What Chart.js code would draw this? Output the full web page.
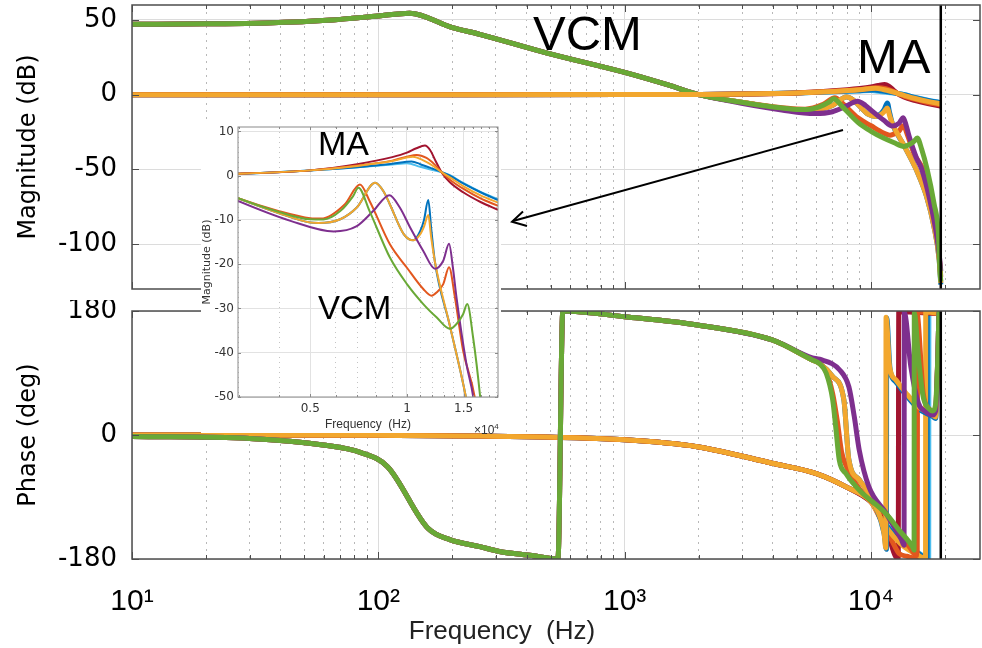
<!DOCTYPE html>
<html lang="es">
<head>
<meta charset="utf-8">
<title>Bode VCM / MA</title>
<script src="https://cdn.jsdelivr.net/npm/chart.js@4.4.1/dist/chart.umd.min.js"></script>
<style>
  html, body { margin: 0; padding: 0; background: #ffffff; }
  #baseBode { position: relative; width: 982px; height: 648px; overflow: hidden; background: #ffffff; }
  #baseBode canvas { position: absolute; display: block; }
  #baseInset { position: absolute; left: 201px; top: 121px; width: 300px; height: 312px; background: #ffffff; }
  .nota { position: absolute; line-height: 1; white-space: nowrap; color: #000000; font-family: "Liberation Sans", Arial, sans-serif; }
  #flecha { position: absolute; left: 0; top: 0; }
</style>
</head>
<body>
<div id="baseBode">
  <canvas id="graficaMagnitud" width="982" height="300" style="left:0;top:0"></canvas>
  <canvas id="graficaFase" width="982" height="348" style="left:0;top:300px"></canvas>
  <div id="baseInset"><canvas id="graficaInset" width="300" height="312" style="left:0;top:0"></canvas></div>
  <div class="nota" style="left:533px;top:9px;font-size:49px">VCM</div>
  <div class="nota" style="left:857px;top:32px;font-size:49px">MA</div>
  <div class="nota" style="left:318px;top:126px;font-size:34px">MA</div>
  <div class="nota" style="left:318px;top:291px;font-size:33px">VCM</div>
  <div class="nota" style="left:474px;top:424px;font-size:12px;color:#333">×10<span style="font-size:8px;position:relative;top:-5px">4</span></div>
  <div class="nota" style="left:502px;top:617px;font-size:26px;color:#222;transform:translateX(-50%)">Frequency&nbsp; (Hz)</div>
  <svg id="flecha" width="982" height="648">
    <line x1="843" y1="130" x2="513" y2="221" stroke="#000" stroke-width="2"/>
    <polyline points="523,211.5 512,221.7 527,226" fill="none" stroke="#000" stroke-width="2"/>
  </svg>
</div>
<script>
/* EJES */
const freqMin = 10;
const freqMax = 27700;
const nyquistHz = 19200;
const magMin = -130;
const magMax = 60;
const faseMin = -180;
const faseMax = 180;
const magTicks = [-100, -50, 0, 50];
const faseTicks = [-180, 0, 180];
const decadas = [10, 100, 1000, 10000];
const etiquetasDecada = ['10¹', '10²', '10³', '10⁴'];

const insetFreqMin = 2980;
const insetFreqMax = 19200;
const insetMagMin = -50;
const insetMagMax = 11;
const insetMagTicks = [-50, -40, -30, -20, -10, 0, 10];
const insetFreqTicks = [3000, 4000, 5000, 6000, 7000, 8000, 9000, 10000, 11000, 12000, 13000, 14000, 15000, 16000, 17000, 18000, 19000];
const insetFreqMarcadas = [5000, 10000, 15000];
const insetEtiquetas = ['0.5', '1', '1.5'];

/* MAGNITUD VCM (dB) */
const vcmMagBajaF = [10, 20, 35, 65, 100, 134, 200, 258, 480, 1000, 1500, 2000];
const vcmMagBaja = [47.1, 47.4, 48, 50, 52.7, 54.5, 44.8, 40.4, 28, 14.9, 6.5, 0];

const vcmAzulMagF = [2980, 4000, 5000, 5300, 6200, 6980, 7960, 8450, 8850, 9770, 10460, 11000, 11300, 11650, 11900, 12220, 13600, 15310, 16800, 18000, 18900, 19200];
const vcmAzulMag = [-5.1, -8.5, -10.6, -10.7, -9.85, -7.2, -1.6, -3.5, -6.5, -13.2, -14.6, -12.5, -10, -5.5, -12, -19.5, -33.9, -50.6, -68, -88, -110, -127];
const vcmAmarilloMagF = [2980, 4000, 5000, 5300, 6200, 6980, 7960, 8450, 8850, 9770, 10460, 11000, 11300, 11650, 11900, 12220, 13600, 15310, 16800, 18000, 18900, 19200];
const vcmAmarilloMag = [-5.1, -8.5, -10.6, -10.7, -9.85, -7.2, -1.6, -3.5, -6.5, -13.2, -14.6, -13.2, -11.5, -8.9, -14, -19.5, -33.9, -50.6, -68, -88, -110, -126];
const vcmNaranjaMagF = [2980, 4000, 5000, 5400, 6400, 7140, 7650, 8850, 10000, 11240, 11930, 12360, 12970, 13520, 14100, 14950, 16300, 17500, 18500, 19000, 19200];
const vcmNaranjaMag = [-5.1, -8.0, -9.6, -9.7, -6.5, -2.0, -5.7, -15.5, -20.8, -25.6, -27.1, -26.4, -24.5, -20.7, -27.5, -39.5, -50.6, -70, -95, -112, -122];
const vcmMoradoMagF = [2980, 4340, 5920, 6980, 7850, 8820, 9500, 10230, 11240, 12220, 12970, 13520, 13900, 14260, 15310, 16080, 17300, 18500, 19000, 19200];
const vcmMoradoMag = [-5.7, -10.2, -12.6, -11.4, -8, -4.4, -7.2, -11.7, -17, -21, -19.2, -15.4, -20.8, -27.5, -42.5, -50, -70, -95, -110, -118];
const vcmVerdeMagF = [2980, 4000, 5000, 5500, 6200, 6800, 7060, 7650, 8850, 10000, 11240, 12360, 13600, 14260, 14950, 15400, 16060, 16900, 18030, 18780, 19020, 19200];
const vcmVerdeMag = [-5.1, -8.2, -9.85, -9.9, -8, -4.6, -2.7, -8, -18.5, -24.5, -29, -32, -34.6, -33.5, -31.3, -29, -36.5, -50, -72.9, -92.9, -115, -125];

/* MAGNITUD MA (dB) */
const maMagBajaF = [10, 1000, 2000, 3000, 5000];
const maMagBaja = [0, 0.05, 0.2, 0.45, 1.2];

const maAzulMagF = [7000, 9000, 10340, 11000, 12000, 12820, 13600, 15000, 17000, 19200];
const maAzulMag = [1.9, 2.7, 3.2, 2.6, 1.6, 0.8, 0, -1.8, -3.8, -5.5];
const maCelesteMagF = [7000, 9000, 10000, 11000, 12000, 12820, 13600, 15000, 17000, 19200];
const maCelesteMag = [1.9, 2.5, 2.8, 2.0, 1.3, 0.8, 0.1, -1.7, -3.7, -5.3];
const maAmarilloMagF = [7000, 9000, 10440, 11200, 12000, 12820, 13600, 15000, 17000, 19200];
const maAmarilloMag = [2.2, 3.3, 4.3, 3.5, 2.3, 0.8, -0.4, -2.4, -4.5, -6.1];
const maNaranjaMagF = [7000, 9000, 10000, 10720, 11500, 12200, 12820, 13600, 15000, 17000, 19200];
const maNaranjaMag = [2.3, 3.4, 4.3, 4.7, 4.0, 2.5, 0.75, -0.9, -3.0, -5.2, -6.8];
const maRojoMagF = [7000, 9000, 10000, 10700, 11370, 11800, 12300, 12820, 13600, 15000, 17000, 19200];
const maRojoMag = [2.6, 4.2, 5.2, 6.2, 6.8, 5.8, 3.2, 0.75, -1.5, -3.8, -6.0, -7.7];

/* FASE VCM (deg) */
const vcmFaseBajaF = [10, 30, 59.7, 85, 109, 159, 195, 258, 310, 420, 536, 561, 1000, 1970, 3970];
const vcmFaseBaja = [-2, -5, -14.5, -25.6, -46, -135.5, -152, -162, -169, -175, -180, 180, 171.7, 159.7, 138];

const vcmVerdeFaseF = [5780, 6170, 6580, 6990, 7200, 7430, 7910, 8960, 11490, 13000, 14720, 14960, 14990, 15600, 16300, 17200, 17800, 18300, 18700, 18900, 19200];
const vcmVerdeFase = [109, 104, 89.6, 51, 10, -36, -56, -80, -114, -138, -162, -167, 177, 110, 55, 38, 35, 45, 120, 178, 178];
const vcmMoradoFaseF = [5780, 6170, 7480, 8130, 8550, 8960, 9800, 11490, 12620, 13300, 13620, 13650, 14500, 15580, 16500, 17780, 18300, 18700, 18900, 19200];
const vcmMoradoFase = [112, 110, 94, 70, 27, -22, -75, -113, -138, -152, -160, 178, 100, 46, 35, 29, 35, 120, 178, 178];
const vcmAmarilloFaseF = [5780, 6170, 6990, 7760, 8130, 8960, 10440, 11300, 11480, 11510, 11900, 12620, 13860, 15580, 17780, 18300, 18700, 18900, 19200];
const vcmAmarilloFase = [109, 104, 85, 51, -36, -65, -104, -143, -164, 171, 99, 80, 61, 41, 29, 26, 120, 178, 178];
const vcmAzulFaseF = [5780, 6170, 6990, 7760, 8130, 8960, 10440, 11300, 11550, 11580, 11950, 12620, 13860, 15580, 17780, 18300, 18700, 18900, 19200];
const vcmAzulFase = [109, 104, 85, 51, -36, -65, -104, -143, -166, 170, 96, 77, 58, 38, 27, 24, 120, 178, 178];
const vcmNaranjaFaseF = [5780, 6170, 6580, 6990, 7300, 7600, 8100, 8960, 11490, 13000, 14500, 15300, 15330, 16300, 17200, 17800, 18300, 18700, 18900, 19200];
const vcmNaranjaFase = [109, 104, 92, 60, 20, -25, -52, -78, -116, -142, -165, -175, 178, 60, 38, 33, 40, 120, 178, 178];

/* FASE MA (deg) */
const maFaseBajaF = [10, 100, 258, 1000, 1970, 3970, 6000, 8000, 10000];
const maFaseBaja = [0, -0.5, -1.5, -7, -17, -41, -56, -76, -97];

const maAzulFaseF = [11490, 13200, 15580, 16900, 16930, 19200];
const maAzulFase = [-130, -155, -172, -179, 179, 176];
const maCelesteFaseF = [11490, 13200, 15580, 17150, 17180, 19200];
const maCelesteFase = [-129, -154, -171, -179, 179, 176];
const maAmarilloFaseF = [11490, 13200, 15580, 16650, 16680, 19200];
const maAmarilloFase = [-133, -158, -175, -179, 179, 176];
const maNaranjaFaseF = [11490, 12100, 13000, 14000, 15400, 15460, 19200];
const maNaranjaFase = [-138, -152, -172, -176, -179, 179, 176];
const maRojoFaseF = [10790, 11490, 12100, 12620, 12900, 12960, 15000, 19200];
const maRojoFase = [-110, -135, -160, -177, -178, 179, 178, 176];

/* COLORES */
const colAzul = '#0072BD';
const colNaranja = '#E2571E';
const colAmarillo = '#F2A72E';
const colMorado = '#7E2F8E';
const colVerde = '#69A936';
const colRojo = '#A2142F';
const colCeleste = '#4DBEEE';

function puntos(fBaja, vBaja, fAlta, vAlta) {
    const fs = fBaja.concat(fAlta);
    const vs = vBaja.concat(vAlta);
    return fs.map((f, i) => ({ x: f, y: vs[i] }));
}

function serie(data, color, ancho) {
    return {
        data: data,
        borderColor: color,
        borderWidth: ancho,
        pointRadius: 0,
        fill: false,
        cubicInterpolationMode: 'monotone'
    };
}

// rejilla log: 1..9 x cada decada
let rejillaFreq = [];
decadas.forEach(d => {
    for (let m = 1; m <= 9; m++) {
        if (d * m <= freqMax) rejillaFreq.push(d * m);
    }
});

/* MARCO ESTILO MATLAB */
const marcoCaja = {
    id: 'marcoCaja',
    afterDatasetsDraw(chart, args, op) {
        const { ctx, chartArea: a, scales } = chart;
        ctx.save();
        ctx.strokeStyle = op.color;
        ctx.lineWidth = 1;
        ctx.beginPath();
        scales.x.ticks.forEach(t => {
            const px = Math.round(scales.x.getPixelForValue(t.value)) + 0.5;
            if (px < a.left || px > a.right) return;
            const largo = op.mayores.includes(t.value) ? op.tickMayor : op.tickMenor;
            ctx.moveTo(px, a.bottom); ctx.lineTo(px, a.bottom - largo);
            ctx.moveTo(px, a.top); ctx.lineTo(px, a.top + largo);
        });
        scales.y.ticks.forEach(t => {
            const py = Math.round(scales.y.getPixelForValue(t.value)) + 0.5;
            ctx.moveTo(a.left, py); ctx.lineTo(a.left + op.tickMayor, py);
            ctx.moveTo(a.right, py); ctx.lineTo(a.right - op.tickMayor, py);
        });
        ctx.stroke();
        ctx.lineWidth = op.width;
        ctx.strokeRect(a.left, a.top, a.right - a.left, a.bottom - a.top);
        ctx.restore();
    }
};

function esMayor(c, lista) {
    return !c.tick || lista.includes(c.tick.value);
}

// sin relleno extra por etiquetas en los bordes
function sinRelleno(s) {
    s.paddingTop = 0;
    s.paddingBottom = 0;
    s.paddingLeft = 0;
    s.paddingRight = 0;
}

function ejeFrecuencia(mostrar, alto) {
    return {
        type: 'logarithmic',
        min: freqMin,
        max: freqMax,
        afterBuildTicks: s => { s.ticks = rejillaFreq.map(v => ({ value: v })); },
        afterFit: s => { s.height = alto; sinRelleno(s); },
        ticks: {
            display: mostrar,
            autoSkip: false,
            maxRotation: 0,
            padding: 25,
            color: '#000',
            font: { family: 'Liberation Sans', size: 30 },
            callback: v => {
                const i = decadas.indexOf(v);
                return i >= 0 ? etiquetasDecada[i] : '';
            }
        },
        grid: {
            drawTicks: false,
            color: c => esMayor(c, decadas) ? '#dcdcdc' : '#b8b8b8',
            lineWidth: 1
        },
        border: {
            display: false,
            dash: c => esMayor(c, decadas) ? [] : [2, 5]
        }
    };
}

function ejeValor(min, max, marcas, titulo) {
    return {
        type: 'linear',
        min: min,
        max: max,
        afterBuildTicks: s => { s.ticks = marcas.map(v => ({ value: v })); },
        afterFit: s => { s.width = 132; sinRelleno(s); },
        ticks: { padding: 15, color: '#000', font: { family: 'DejaVu Sans', size: 26 } },
        grid: { drawTicks: false, color: '#dcdcdc' },
        border: { display: false },
        title: {
            display: true,
            text: titulo,
            color: '#000',
            font: { family: 'DejaVu Sans', size: 24 },
            padding: { top: 14, bottom: 0 }
        }
    };
}

function opcionesBase(padding, ejeX, ejeY, marco) {
    return {
        responsive: false,
        animation: false,
        events: [],
        layout: { padding: padding },
        plugins: {
            legend: { display: false },
            tooltip: { enabled: false },
            marcoCaja: marco
        },
        scales: { x: ejeX, y: ejeY }
    };
}

/* SERIES */
function seriesMagnitud(ancho) {
    // orden de abajo hacia arriba
    return [
        serie(puntos(vcmMagBajaF, vcmMagBaja, vcmAzulMagF, vcmAzulMag), colAzul, ancho),
        serie(puntos(vcmMagBajaF, vcmMagBaja, vcmNaranjaMagF, vcmNaranjaMag), colNaranja, ancho),
        serie(puntos(vcmMagBajaF, vcmMagBaja, vcmAmarilloMagF, vcmAmarilloMag), colAmarillo, ancho),
        serie(puntos(vcmMagBajaF, vcmMagBaja, vcmMoradoMagF, vcmMoradoMag), colMorado, ancho),
        serie(puntos(vcmMagBajaF, vcmMagBaja, vcmVerdeMagF, vcmVerdeMag), colVerde, ancho),
        serie(puntos(maMagBajaF, maMagBaja, maCelesteMagF, maCelesteMag), colCeleste, ancho),
        serie(puntos(maMagBajaF, maMagBaja, maAzulMagF, maAzulMag), colAzul, ancho),
        serie(puntos(maMagBajaF, maMagBaja, maRojoMagF, maRojoMag), colRojo, ancho),
        serie(puntos(maMagBajaF, maMagBaja, maNaranjaMagF, maNaranjaMag), colNaranja, ancho),
        serie(puntos(maMagBajaF, maMagBaja, maAmarilloMagF, maAmarilloMag), colAmarillo, ancho)
    ];
}

function seriesFase(ancho) {
    return [
        serie(puntos(maFaseBajaF, maFaseBaja, maCelesteFaseF, maCelesteFase), colCeleste, ancho),
        serie(puntos(maFaseBajaF, maFaseBaja, maAzulFaseF, maAzulFase), colAzul, ancho),
        serie(puntos(maFaseBajaF, maFaseBaja, maRojoFaseF, maRojoFase), colRojo, ancho),
        serie(puntos(maFaseBajaF, maFaseBaja, maNaranjaFaseF, maNaranjaFase), colNaranja, ancho),
        serie(puntos(maFaseBajaF, maFaseBaja, maAmarilloFaseF, maAmarilloFase), colAmarillo, ancho),
        serie(puntos(vcmFaseBajaF, vcmFaseBaja, vcmAzulFaseF, vcmAzulFase), colAzul, ancho),
        serie(puntos(vcmFaseBajaF, vcmFaseBaja, vcmNaranjaFaseF, vcmNaranjaFase), colNaranja, ancho),
        serie(puntos(vcmFaseBajaF, vcmFaseBaja, vcmAmarilloFaseF, vcmAmarilloFase), colAmarillo, ancho),
        serie(puntos(vcmFaseBajaF, vcmFaseBaja, vcmMoradoFaseF, vcmMoradoFase), colMorado, ancho),
        serie(puntos(vcmFaseBajaF, vcmFaseBaja, vcmVerdeFaseF, vcmVerdeFase), colVerde, ancho)
    ];
}

function lineaNyquist(min, max) {
    return {
        data: [{ x: nyquistHz, y: min }, { x: nyquistHz, y: max }],
        borderColor: '#000',
        borderWidth: 2.5,
        pointRadius: 0
    };
}

const marcoPrincipal = { color: '#4d4d4d', width: 1.5, tickMayor: 7, tickMenor: 4, mayores: decadas };

/* GRAFICA MAGNITUD */
let dsMag = seriesMagnitud(5);
dsMag.push(lineaNyquist(magMin, magMax));
new Chart(document.getElementById('graficaMagnitud'), {
    type: 'line',
    data: { datasets: dsMag.reverse() },
    options: opcionesBase(
        { left: 0, right: 2, top: 5, bottom: 0 },
        ejeFrecuencia(false, 11),
        ejeValor(magMin, magMax, magTicks, 'Magnitude (dB)'),
        marcoPrincipal
    ),
    plugins: [marcoCaja]
});

/* GRAFICA FASE */
let dsFase = seriesFase(5);
dsFase.push(lineaNyquist(faseMin, faseMax));
new Chart(document.getElementById('graficaFase'), {
    type: 'line',
    data: { datasets: dsFase.reverse() },
    options: opcionesBase(
        { left: 0, right: 2, top: 11, bottom: 0 },
        ejeFrecuencia(true, 89),
        ejeValor(faseMin, faseMax, faseTicks, 'Phase (deg)'),
        marcoPrincipal
    ),
    plugins: [marcoCaja]
});

/* INSET */
const fuenteInset = { family: 'DejaVu Sans', size: 12 };
new Chart(document.getElementById('graficaInset'), {
    type: 'line',
    data: { datasets: seriesMagnitud(2).reverse() },
    options: opcionesBase(
        { left: 0, right: 3, top: 6, bottom: 0 },
        {
            type: 'logarithmic',
            min: insetFreqMin,
            max: insetFreqMax,
            afterBuildTicks: s => { s.ticks = insetFreqTicks.map(v => ({ value: v })); },
            afterFit: s => { s.height = 36; sinRelleno(s); },
            ticks: {
                autoSkip: false,
                maxRotation: 0,
                padding: 5,
                color: '#333',
                font: fuenteInset,
                callback: v => {
                    const i = insetFreqMarcadas.indexOf(v);
                    return i >= 0 ? insetEtiquetas[i] : '';
                }
            },
            grid: {
                drawTicks: false,
                color: c => esMayor(c, insetFreqMarcadas) ? '#e2e2e2' : '#c4c4c4'
            },
            border: { display: false, dash: c => esMayor(c, insetFreqMarcadas) ? [] : [1, 4] },
            title: {
                display: true,
                text: 'Frequency  (Hz)',
                color: '#333',
                font: { family: 'Liberation Sans', size: 12 },
                padding: { top: 0, bottom: 1 }
            }
        },
        {
            type: 'linear',
            min: insetMagMin,
            max: insetMagMax,
            afterBuildTicks: s => { s.ticks = insetMagTicks.map(v => ({ value: v })); },
            afterFit: s => { s.width = 37; sinRelleno(s); },
            ticks: { padding: 4, color: '#333', font: fuenteInset },
            grid: { drawTicks: false, color: '#e2e2e2' },
            border: { display: false },
            title: {
                display: true,
                text: 'Magnitude (dB)',
                color: '#333',
                font: { family: 'DejaVu Sans', size: 11 },
                padding: { top: 0, bottom: 0 }
            }
        },
        { color: '#8a8a8a', width: 1, tickMayor: 3, tickMenor: 2, mayores: insetFreqMarcadas }
    ),
    plugins: [marcoCaja]
});
</script>
</body>
</html>
